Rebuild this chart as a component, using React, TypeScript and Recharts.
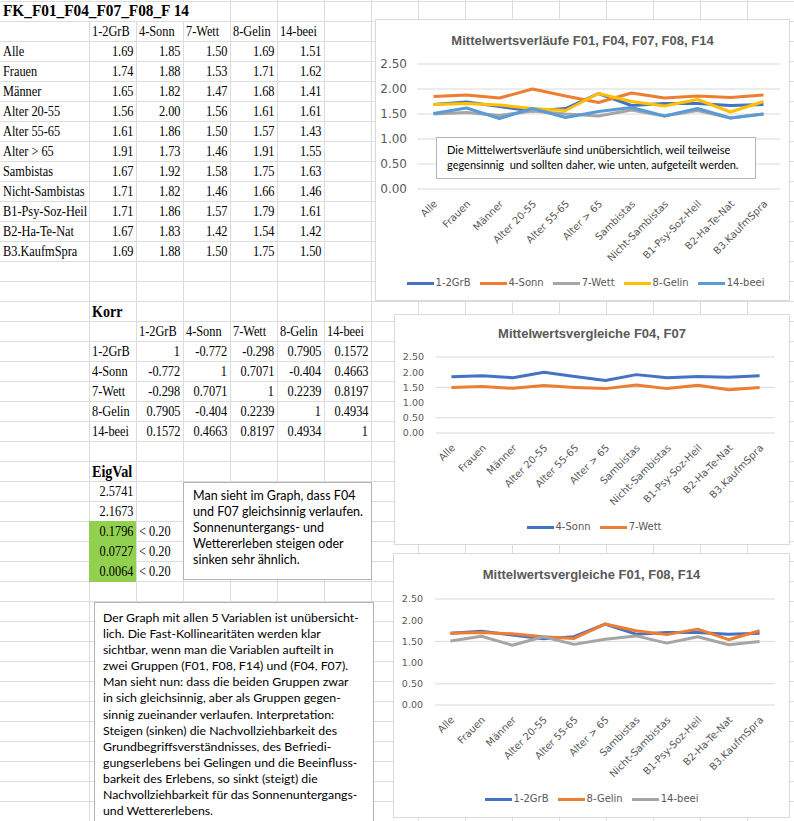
import React from 'react';
import { LineChart, Line, XAxis, YAxis, CartesianGrid } from 'recharts';

const kategorien = ['Alle', 'Frauen', 'Männer', 'Alter 20-55', 'Alter 55-65', 'Alter > 65', 'Sambistas', 'Nicht-Sambistas', 'B1-Psy-Soz-Heil', 'B2-Ha-Te-Nat', 'B3.KaufmSpra'];
const variablen = ['1-2GrB', '4-Sonn', '7-Wett', '8-Gelin', '14-beei'];

const grb = [1.69, 1.74, 1.65, 1.56, 1.61, 1.91, 1.67, 1.71, 1.71, 1.67, 1.69];
const sonn = [1.85, 1.88, 1.82, 2.0, 1.86, 1.73, 1.92, 1.82, 1.86, 1.83, 1.88];
const wett = [1.5, 1.53, 1.47, 1.56, 1.5, 1.46, 1.58, 1.46, 1.57, 1.42, 1.5];
const gelin = [1.69, 1.71, 1.68, 1.61, 1.57, 1.91, 1.75, 1.66, 1.79, 1.54, 1.75];
const beei = [1.51, 1.62, 1.41, 1.61, 1.43, 1.55, 1.63, 1.46, 1.61, 1.42, 1.5];

const korr = [
  [1, -0.772, -0.298, 0.7905, 0.1572],
  [-0.772, 1, 0.7071, -0.404, 0.4663],
  [-0.298, 0.7071, 1, 0.2239, 0.8197],
  [0.7905, -0.404, 0.2239, 1, 0.4934],
  [0.1572, 0.4663, 0.8197, 0.4934, 1],
];
const eigVal = [2.5741, 2.1673, 0.1796, 0.0727, 0.0064];
const yTicks = [0, 0.5, 1, 1.5, 2, 2.5];

const werte = [grb, sonn, wett, gelin, beei];
const dados = kategorien.map((nome, i) => {
  const linha: any = { nome };
  variablen.forEach((v, k) => (linha[v] = werte[k][i]));
  return linha;
});

const BLAU = '#4472C4';
const ORANGE = '#ED7D31';
const GRAU = '#A5A5A5';
const GOLD = '#FFC000';
const HELLBLAU = '#5B9BD5';
const GITTER = '#d9d9d9';
const TXT = '#595959';

const colX = (c: number) => (c === 0 ? 0 : 89 + 47 * (c - 1));
const colW = (c: number) => (c === 0 ? 89 : 47);
const rowY = (r: number) => 1 + 20 * r;

function Zelle({ c, r, text, align = 'left', bold = false, size = 14 }: any) {
  return (
    <div
      style={{
        position: 'absolute',
        left: colX(c) + 3,
        top: rowY(r) + 1,
        width: colW(c) - 6,
        height: 20,
        lineHeight: '20px',
        textAlign: align,
        whiteSpace: 'nowrap',
        fontFamily: '"Liberation Serif", serif',
        fontSize: size,
        fontWeight: bold ? 'bold' : 'normal',
        color: '#000',
      }}
    >
      <span style={{ display: 'inline-block', transform: 'scaleX(0.88)', transformOrigin: align === 'right' ? 'right' : 'left' }}>{text}</span>
    </div>
  );
}

const TickKat = ({ x, y, payload }: any) => (
  <text
    x={x + 2}
    y={y + 5}
    transform={`rotate(-45 ${x + 2} ${y + 5})`}
    textAnchor="end"
    dy="0.35em"
    fontSize={10}
    fontFamily="DejaVu Sans"
    fill={TXT}
  >
    {payload.value}
  </text>
);

function Legende({ series, top, dx = 0 }: any) {
  return (
    <div style={{ position: 'absolute', left: dx, width: '100%', top: top - 7, height: 14, display: 'flex', justifyContent: 'center', alignItems: 'center', gap: 9 }}>
      {series.map((s: any) => (
        <div key={s.key} style={{ display: 'flex', alignItems: 'center' }}>
          <div style={{ width: 27, height: 3, background: s.cor, marginRight: 2 }} />
          <span style={{ fontSize: 10, fontFamily: 'DejaVu Sans', color: TXT, lineHeight: '14px' }}>{s.key}</span>
        </div>
      ))}
    </div>
  );
}

function Grafico({ left, top, width, height, titulo, series, plotTop, plotBottom, plotLeft, plotRight, tickSize, tickGap, titleY, legendY, legendDx, children }: any) {
  const band = (plotRight - plotLeft) / kategorien.length;
  return (
    <div style={{ position: 'absolute', left, top, width, height, background: '#fff', border: `1px solid ${GITTER}`, boxSizing: 'border-box' }}>
      <div style={{ position: 'absolute', left: 0, width: '100%', top: titleY - 9, height: 18, lineHeight: '18px', textAlign: 'center', fontFamily: '"Liberation Sans", Arial', fontWeight: 'bold', fontSize: 13, color: TXT }}>
        {titulo}
      </div>
      <div style={{ position: 'absolute', left: -1, top: -1 }}>
        <LineChart width={width} height={height} data={dados} margin={{ top: plotTop, right: width - plotRight, bottom: height - plotBottom - 70, left: 0 }}>
          <CartesianGrid vertical={false} stroke={GITTER} strokeDasharray="" />
          <XAxis dataKey="nome" interval={0} height={70} axisLine={false} tickLine={false} tick={<TickKat />} padding={{ left: band / 2, right: band / 2 }} />
          <YAxis
            type="number"
            domain={[0, 2.5]}
            ticks={yTicks}
            width={plotLeft}
            axisLine={false}
            tickLine={false}
            tickMargin={tickGap}
            tickFormatter={(v: number) => v.toFixed(2)}
            tick={{ fontSize: tickSize, fontFamily: 'DejaVu Sans', fill: TXT }}
          />
          {series.map((s: any) => (
            <Line key={s.key} type="linear" dataKey={s.key} stroke={s.cor} strokeWidth={3} dot={false} strokeLinejoin="round" isAnimationActive={false} />
          ))}
        </LineChart>
      </div>
      <Legende series={series} top={legendY} dx={legendDx} />
      {children}
    </div>
  );
}

const textBox = {
  position: 'absolute' as const,
  background: '#fff',
  border: '1px solid #b4b4b4',
  boxSizing: 'border-box' as const,
  fontFamily: 'Lato, "Open Sans", sans-serif',
  color: '#000',
  whiteSpace: 'pre' as const,
};

export default function App() {
  const vLinien = [];
  for (let k = 0; k <= 15; k++) vLinien.push(89 + 47 * k);
  const hLinien = [];
  for (let k = 0; k <= 41; k++) hLinien.push(1 + 20 * k);

  return (
    <div style={{ position: 'absolute', left: 0, top: 0, width: 794, height: 821, overflow: 'hidden', background: '#fff' }}>
      {vLinien.map((x) => (
        <div key={'v' + x} style={{ position: 'absolute', left: x, top: 0, width: 1, height: 821, background: '#dadcdd' }} />
      ))}
      {hLinien.map((y) => (
        <div key={'h' + y} style={{ position: 'absolute', left: 0, top: y, width: 794, height: 1, background: '#dadcdd' }} />
      ))}
      {/* Titelzeile überdeckt Gitter */}
      <div style={{ position: 'absolute', left: 0, top: 2, width: 229, height: 19, background: '#fff' }} />
      {/* grüne Zellen */}
      <div style={{ position: 'absolute', left: 89, top: 521, width: 47, height: 61, background: '#92D050' }} />

      <div style={{ position: 'absolute', left: 3, top: rowY(0), height: 20, lineHeight: '20px', whiteSpace: 'nowrap', fontFamily: '"Liberation Serif", serif', fontSize: 17, fontWeight: 'bold' }}>
        <span style={{ display: 'inline-block', transform: 'scaleX(0.9)', transformOrigin: 'left' }}>FK_F01_F04_F07_F08_F 14</span>
      </div>

      {variablen.map((v, k) => (
        <Zelle key={'h1' + v} c={k + 1} r={1} text={v} />
      ))}
      {kategorien.map((kat, i) => (
        <React.Fragment key={'r' + kat}>
          <Zelle c={0} r={i + 2} text={kat} />
          {werte.map((w, k) => (
            <Zelle key={k} c={k + 1} r={i + 2} text={w[i].toFixed(2)} align="right" />
          ))}
        </React.Fragment>
      ))}

      <Zelle c={1} r={15} text="Korr" bold size={16} />
      {variablen.map((v, k) => (
        <Zelle key={'h2' + v} c={k + 2} r={16} text={v} />
      ))}
      {korr.map((zeile, i) => (
        <React.Fragment key={'k' + i}>
          <Zelle c={1} r={17 + i} text={variablen[i]} />
          {zeile.map((val, k) => (
            <Zelle key={k} c={k + 2} r={17 + i} text={String(val)} align="right" />
          ))}
        </React.Fragment>
      ))}

      <Zelle c={1} r={23} text="EigVal" bold size={16} />
      {eigVal.map((e, i) => (
        <React.Fragment key={'e' + i}>
          <Zelle c={1} r={24 + i} text={e.toFixed(4)} align="right" />
          {e < 0.2 && <Zelle c={2} r={24 + i} text="< 0.20" />}
        </React.Fragment>
      ))}

      <div style={{ ...textBox, left: 183, top: 482, width: 189, height: 98, padding: '5px 0 0 9px', fontSize: 12.5, lineHeight: '16px' }}>
        {'Man sieht im Graph, dass F04\nund F07 gleichsinnig verlaufen.\nSonnenuntergangs- und\nWettererleben steigen oder\nsinken sehr ähnlich.'}
      </div>

      <div style={{ ...textBox, left: 94, top: 602, width: 280, height: 240, padding: '7px 0 0 8px', fontSize: 12.3, lineHeight: '16.1px' }}>
        {'Der Graph mit allen 5 Variablen ist unübersicht-\nlich. Die Fast-Kollinearitäten werden klar\nsichtbar, wenn man die Variablen aufteilt in\nzwei Gruppen (F01, F08, F14) und (F04, F07).\nMan sieht nun: dass die beiden Gruppen zwar\nin sich gleichsinnig, aber als Gruppen gegen-\nsinnig zueinander verlaufen. Interpretation:\nSteigen (sinken) die Nachvollziehbarkeit des\nGrundbegriffsverständnisses, des Befriedi-\ngungserlebens bei Gelingen und die Beeinfluss-\nbarkeit des Erlebens, so sinkt (steigt) die\nNachvollziehbarkeit für das Sonnenuntergangs-\nund Wettererlebens.'}
      </div>

      <Grafico
        left={375}
        top={19}
        width={415}
        height={282}
        titulo="Mittelwertsverläufe F01, F04, F07, F08, F14"
        series={[
          { key: '1-2GrB', cor: BLAU },
          { key: '4-Sonn', cor: ORANGE },
          { key: '7-Wett', cor: GRAU },
          { key: '8-Gelin', cor: GOLD },
          { key: '14-beei', cor: HELLBLAU },
        ]}
        plotTop={45}
        plotBottom={170}
        plotLeft={42}
        plotRight={405}
        tickSize={12}
        tickGap={4}
        titleY={21}
        legendY={263}
        legendDx={3}
      >
        <div style={{ ...textBox, left: 60, top: 117, width: 320, height: 42, padding: '4px 0 0 10px', fontSize: 11, lineHeight: '15px' }}>
          {'Die Mittelwertsverläufe sind unübersichtlich, weil teilweise\ngegensinnig  und sollten daher, wie unten, aufgeteilt werden.'}
        </div>
      </Grafico>

      <Grafico
        left={394}
        top={314}
        width={396}
        height={231}
        titulo="Mittelwertsvergleiche F04, F07"
        series={[
          { key: '4-Sonn', cor: BLAU },
          { key: '7-Wett', cor: ORANGE },
        ]}
        plotTop={43}
        plotBottom={119}
        plotLeft={42}
        plotRight={381}
        tickSize={9.5}
        tickGap={6}
        titleY={19}
        legendY={212}
        legendDx={2}
      />

      <Grafico
        left={393}
        top={553}
        width={397}
        height={265}
        titulo="Mittelwertsvergleiche F01, F08, F14"
        series={[
          { key: '1-2GrB', cor: BLAU },
          { key: '8-Gelin', cor: ORANGE },
          { key: '14-beei', cor: GRAU },
        ]}
        plotTop={46}
        plotBottom={152}
        plotLeft={42}
        plotRight={382}
        tickSize={9.5}
        tickGap={6}
        titleY={21}
        legendY={245}
        legendDx={0}
      />
    </div>
  );
}
